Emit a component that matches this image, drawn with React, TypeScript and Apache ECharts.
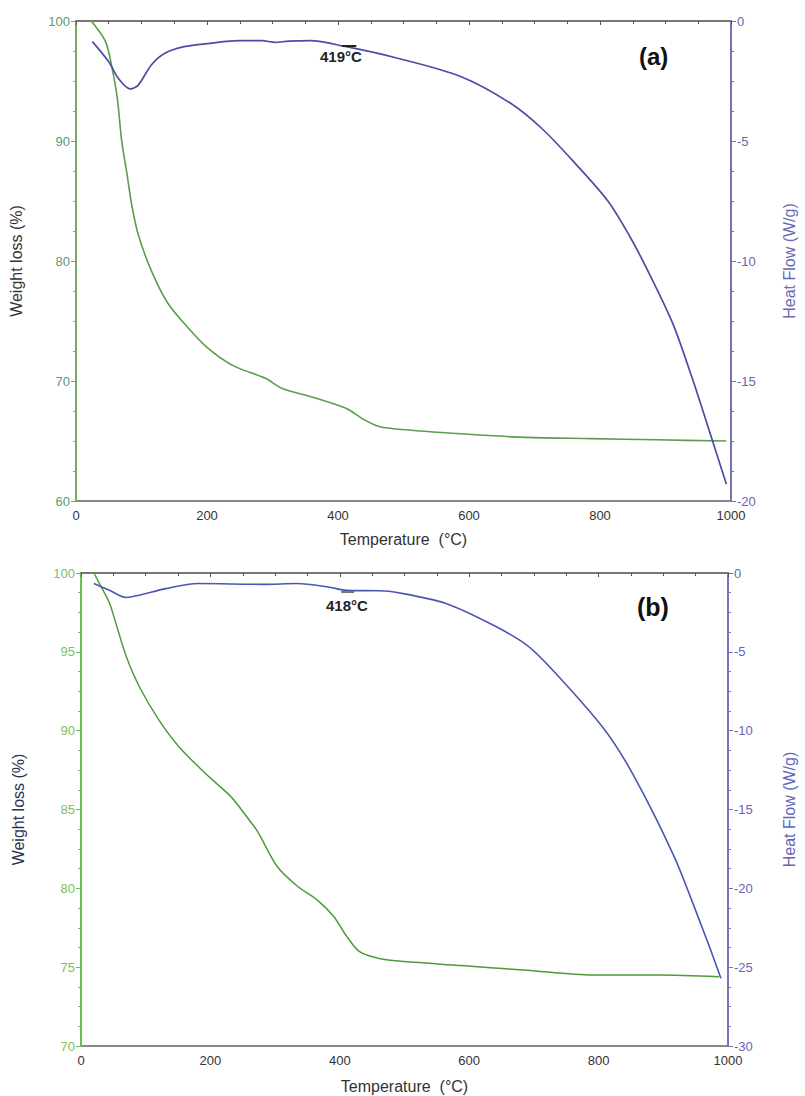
import React, { useEffect, useRef } from "react";
import * as echarts from "echarts";

// ---- Panel (a) ----
const tempWeightA = [22, 25, 45, 55, 63, 70, 78, 85, 95, 115, 140, 170, 200, 239, 290, 314, 364, 413, 439, 463, 488, 588, 687, 787, 886, 993];
const weightA = [100, 99.9, 98.3, 96.1, 93.6, 89.9, 87.2, 84.7, 82.2, 79.2, 76.5, 74.5, 72.8, 71.3, 70.2, 69.4, 68.6, 67.7, 66.8, 66.2, 66.0, 65.6, 65.3, 65.2, 65.1, 65.0];
const tempHeatA = [25, 50, 65, 83, 95, 115, 135, 165, 204, 249, 284, 304, 324, 358, 409, 488, 588, 663, 712, 761, 812, 846, 871, 911, 941, 966, 993];
const heatA = [-0.86, -1.7, -2.4, -2.83, -2.67, -1.83, -1.35, -1.07, -0.93, -0.82, -0.82, -0.89, -0.84, -0.82, -1.05, -1.53, -2.32, -3.42, -4.5, -5.9, -7.5, -9.0, -10.3, -12.6, -14.9, -17.0, -19.3];

// ---- Panel (b) ----
const tempWeightB = [20, 29, 44, 54, 70, 90, 120, 151, 192, 232, 255, 273, 303, 334, 364, 390, 410, 430, 456, 486, 588, 689, 791, 893, 986];
const weightB = [100, 99.3, 98.1, 96.8, 94.7, 92.8, 90.7, 89.0, 87.3, 85.8, 84.6, 83.6, 81.4, 80.15, 79.3, 78.25, 77.0, 76.0, 75.6, 75.4, 75.1, 74.8, 74.5, 74.5, 74.4];
const tempHeatB = [20, 44, 70, 90, 131, 181, 283, 334, 384, 410, 461, 486, 563, 639, 690, 730, 806, 841, 883, 918, 933, 969, 989];
const heatB = [-0.67, -1.1, -1.55, -1.41, -0.99, -0.67, -0.72, -0.67, -0.9, -1.1, -1.13, -1.22, -1.92, -3.35, -4.6, -6.2, -9.76, -11.9, -15.1, -18.1, -19.6, -23.45, -25.7];

// annotations
const peakA = { label: "419°C", from: [406, -1.04], to: [428, -1.04] };
const peakB = { label: "418°C", from: [402, -1.16], to: [422, -1.16] };
const panelLabels = ["(a)", "(b)"];

const xTitle = "Temperature  (°C)";
const leftTitle = "Weight loss (%)";
const rightTitle = "Heat Flow (W/g)";

const FONT = "Liberation Sans, Arial, sans-serif";
const GREEN = "#5a9e4c";
const BLUE = "#4c4ca8";

function zip(xs: number[], ys: number[]) {
  return xs.map((x, i) => [x, ys[i]]);
}

export default function App() {
  const ref = useRef<HTMLDivElement>(null);
  useEffect(() => {
    if (!ref.current) return;
    document.documentElement.style.overflow = "hidden";
    document.body.style.overflow = "hidden";
    document.body.style.margin = "0";
    const chart = echarts.init(ref.current, undefined, { renderer: "svg", width: 805, height: 1096 });

    const xAxisBase = (gridIndex: number, nameGap: number) => ({
      type: "value",
      gridIndex,
      min: 0,
      max: 1000,
      interval: 200,
      name: xTitle,
      nameLocation: "middle",
      nameGap,
      nameTextStyle: { color: "#333", fontSize: 16, fontFamily: FONT },
      axisLine: { show: true, lineStyle: { color: "#777", width: 2 } },
      axisTick: { show: true, length: 4, lineStyle: { color: "#555" } },
      minorTick: { show: true, splitNumber: 4, length: 3, lineStyle: { color: "#555" } },
      axisLabel: { color: "#333", fontSize: 13, fontFamily: FONT, margin: 8, formatter: (v: number) => String(v) },
      splitLine: { show: false },
    });

    const yAxisBase = (
      gridIndex: number,
      pos: "left" | "right",
      min: number,
      max: number,
      interval: number,
      lineColor: string,
      labelColor: string,
      nameColor: string,
      name: string,
      nameGap: number
    ) => ({
      type: "value",
      gridIndex,
      position: pos,
      min,
      max,
      interval,
      name,
      nameLocation: "middle",
      nameGap,
      nameRotate: 90,
      nameTextStyle: { color: nameColor, fontSize: 16, fontFamily: FONT },
      axisLine: { show: true, onZero: false, lineStyle: { color: lineColor, width: 2 } },
      axisTick: { show: true, length: 5, lineStyle: { color: lineColor } },
      minorTick: { show: true, splitNumber: 4, length: 3, lineStyle: { color: lineColor } },
      axisLabel: { color: labelColor, fontSize: 13, fontFamily: FONT, margin: 6, formatter: (v: number) => String(v) },
      splitLine: { show: false },
    });

    const seg = (p: { from: number[]; to: number[] }, color: string) => ({
      silent: true,
      symbol: "none",
      label: { show: false },
      lineStyle: { color, width: 2, type: "solid" },
      data: [[{ coord: p.from }, { coord: p.to }]],
    });

    const lineCommon = { symbol: "none", smooth: 0.3 };

    const option = {
      animation: false,
      backgroundColor: "#fff",
      grid: [
        { left: 73, right: 62, top: 21, height: 480, show: true, borderColor: "#888", borderWidth: 2, backgroundColor: "transparent" },
        { left: 81, right: 68, top: 573, height: 473, show: true, borderColor: "#888", borderWidth: 2, backgroundColor: "transparent" },
      ],
      xAxis: [xAxisBase(0, 30), xAxisBase(1, 32)],
      yAxis: [
        yAxisBase(0, "left", 60, 100, 10, "#72ad62", "#5e9a70", "#333", leftTitle, 52),
        yAxisBase(0, "right", -20, 0, 5, "#7474b4", "#6868a8", "#6a6ab0", rightTitle, 50),
        yAxisBase(1, "left", 70, 100, 5, "#6cc04e", "#7cc060", "#2e3050", leftTitle, 55),
        yAxisBase(1, "right", -30, 0, 5, "#7474c0", "#6464bc", "#6464bc", rightTitle, 53),
      ],
      series: [
        {
          type: "line", xAxisIndex: 0, yAxisIndex: 0, data: zip(tempWeightA, weightA),
          ...lineCommon, lineStyle: { color: GREEN, width: 1.6 },
        },
        {
          type: "line", xAxisIndex: 0, yAxisIndex: 1, data: zip(tempHeatA, heatA),
          ...lineCommon, lineStyle: { color: BLUE, width: 1.7 },
          markLine: seg(peakA, "#222"),
        },
        {
          type: "line", xAxisIndex: 1, yAxisIndex: 2, data: zip(tempWeightB, weightB),
          ...lineCommon, lineStyle: { color: "#4e9a3c", width: 1.5 },
        },
        {
          type: "line", xAxisIndex: 1, yAxisIndex: 3, data: zip(tempHeatB, heatB),
          ...lineCommon, lineStyle: { color: "#4a56b4", width: 1.6 },
          markLine: seg(peakB, "#777"),
        },
      ],
      graphic: [
        { type: "text", left: 320, top: 49, style: { text: peakA.label, font: `bold 15px ${FONT}`, fill: "#222" } },
        { type: "text", left: 326, top: 598, style: { text: peakB.label, font: `bold 15px ${FONT}`, fill: "#222" } },
        { type: "text", left: 639, top: 44, style: { text: panelLabels[0], font: `bold 24px ${FONT}`, fill: "#111" } },
        { type: "text", left: 637, top: 594, style: { text: panelLabels[1], font: `bold 25px ${FONT}`, fill: "#111" } },
      ],
    };
    chart.setOption(option as any);
    return () => chart.dispose();
  }, []);
  return (
    <div
      ref={ref}
      style={{ position: "absolute", left: 0, top: 0, width: 805, height: 1096, background: "#fff" }}
    />
  );
}
